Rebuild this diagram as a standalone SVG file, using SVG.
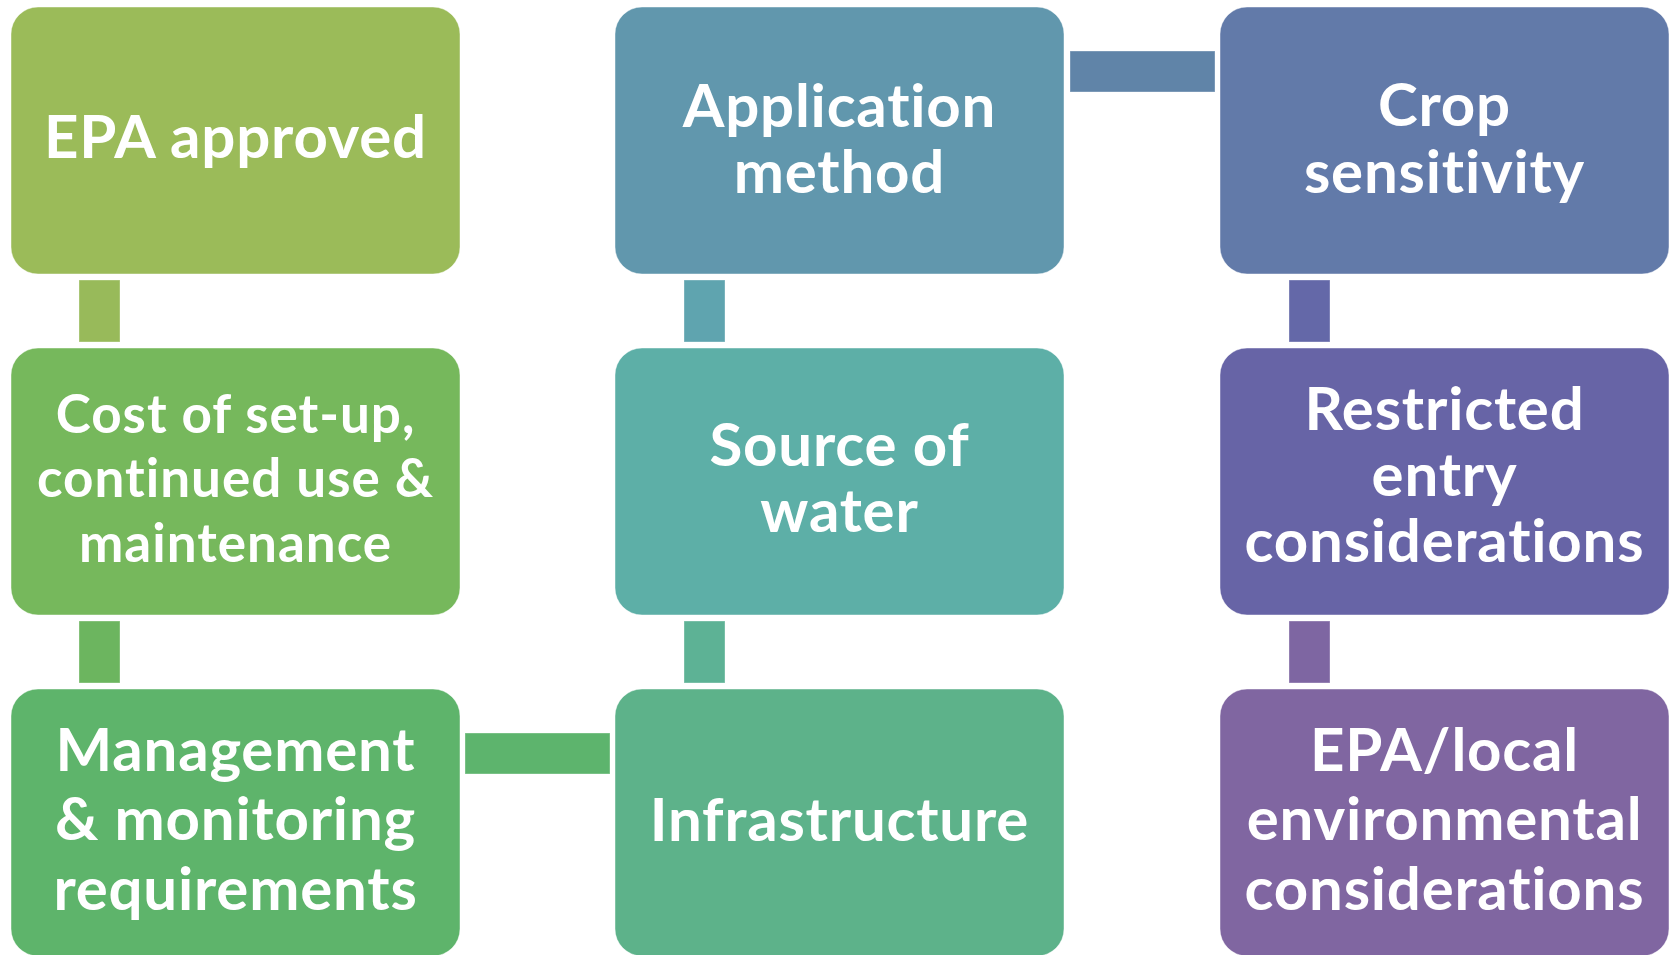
<svg xmlns="http://www.w3.org/2000/svg" width="1672" height="955" viewBox="0 0 1672 955">
  <style>
    .box { stroke: #ffffff; stroke-opacity: 0.45; stroke-width: 1; }
    .conn { stroke: #ffffff; stroke-opacity: 0.35; stroke-width: 1; }
    .lbl { font-family: Lato, "Open Sans", "Liberation Sans", sans-serif; font-weight: 700; fill: #ffffff; text-anchor: middle; font-size: 60px; letter-spacing: 0.8px; font-variant-ligatures: none; }
    .sm { font-size: 53px; letter-spacing: 1px; }
  </style>
  <rect width="1672" height="955" fill="#ffffff"/>
  <g id="connectors">
    <rect class="conn" x="79" y="280" width="41" height="62" fill="#98BA5A"/>
    <rect class="conn" x="79" y="621" width="41" height="62" fill="#6CB55F"/>
    <rect class="conn" x="465" y="733" width="145" height="41" fill="#5DB46D"/>
    <rect class="conn" x="684" y="621" width="41" height="62" fill="#5DB295"/>
    <rect class="conn" x="684" y="280" width="41" height="62" fill="#5FA4AF"/>
    <rect class="conn" x="1070" y="51" width="145" height="41" fill="#6084A8"/>
    <rect class="conn" x="1289" y="280" width="41" height="62" fill="#6468A8"/>
    <rect class="conn" x="1289" y="621" width="41" height="62" fill="#7E66A2"/>
  </g>
  <g id="node-epa-approved">
    <rect class="box" x="11" y="7" width="449" height="267" rx="27" fill="#9BBB59"/>
    <text class="lbl" x="235.5" y="158">EPA approved</text>
  </g>
  <g id="node-cost">
    <rect class="box" x="11" y="348" width="449" height="267" rx="27" fill="#76B85C"/>
    <text class="lbl sm" x="235.5" y="433">Cost of set-up,</text>
    <text class="lbl sm" x="235.5" y="497">continued use &amp;</text>
    <text class="lbl sm" x="235.5" y="562">maintenance</text>
  </g>
  <g id="node-management">
    <rect class="box" x="11" y="689" width="449" height="267" rx="27" fill="#5EB46B"/>
    <text class="lbl" x="235.5" y="771">Management</text>
    <text class="lbl" x="235.5" y="840">&amp; monitoring</text>
    <text class="lbl" x="235.5" y="910">requirements</text>
  </g>
  <g id="node-infrastructure">
    <rect class="box" x="615" y="689" width="449" height="267" rx="27" fill="#5DB28A"/>
    <text class="lbl" x="839.5" y="841">Infrastructure</text>
  </g>
  <g id="node-source-of-water">
    <rect class="box" x="615" y="348" width="449" height="267" rx="27" fill="#5DAFA7"/>
    <text class="lbl" x="839.5" y="466">Source of</text>
    <text class="lbl" x="839.5" y="532">water</text>
  </g>
  <g id="node-application-method">
    <rect class="box" x="615" y="7" width="449" height="267" rx="27" fill="#6197AD"/>
    <text class="lbl" x="839.5" y="127">Application</text>
    <text class="lbl" x="839.5" y="193">method</text>
  </g>
  <g id="node-crop-sensitivity">
    <rect class="box" x="1220" y="7" width="449" height="267" rx="27" fill="#627AA9"/>
    <text class="lbl" x="1444.5" y="126">Crop</text>
    <text class="lbl" x="1444.5" y="193">sensitivity</text>
  </g>
  <g id="node-restricted-entry">
    <rect class="box" x="1220" y="348" width="449" height="267" rx="27" fill="#6764A6"/>
    <text class="lbl" x="1444.5" y="430">Restricted</text>
    <text class="lbl" x="1444.5" y="496">entry</text>
    <text class="lbl" x="1444.5" y="562">considerations</text>
  </g>
  <g id="node-epa-local">
    <rect class="box" x="1220" y="689" width="449" height="267" rx="27" fill="#8066A1"/>
    <text class="lbl" x="1444.5" y="771">EPA/local</text>
    <text class="lbl" x="1444.5" y="840">environmental</text>
    <text class="lbl" x="1444.5" y="910">considerations</text>
  </g>
</svg>
